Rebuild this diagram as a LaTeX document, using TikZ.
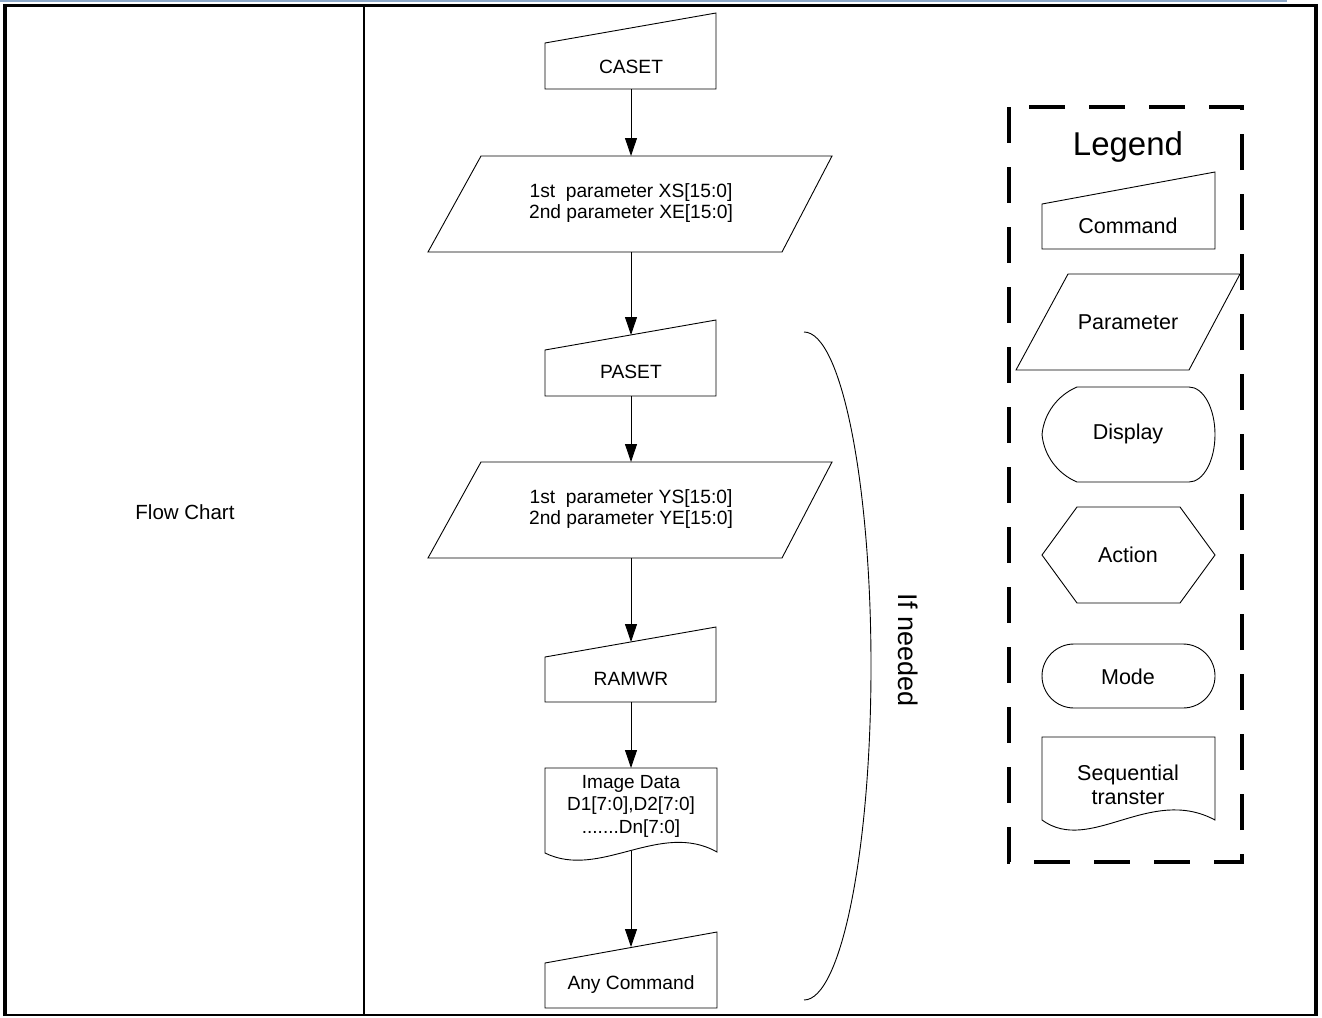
\documentclass[tikz,border=0pt]{standalone}
\usepackage{fontspec}
\setmainfont{Liberation Sans}
\usetikzlibrary{arrows.meta}
\definecolor{rulebluegray}{RGB}{140,168,200}
\begin{document}
\begin{tikzpicture}[x=1pt,y=-1pt,
  outline/.style={draw=black,line width=0.9pt,line join=miter},
  lbl/.style={inner sep=0pt,font=\fontsize{19.2}{21}\selectfont,align=center},
  keylbl/.style={inner sep=0pt,font=\fontsize{21.5}{24}\selectfont,align=center},
  flow/.style={line width=0.9pt,-{Triangle[length=18pt,width=12pt]}},
  frame/.style={draw=black,line width=#1},
  legendbox/.style={draw=black,line width=4pt,dash pattern=on 36pt off 24pt}
]
\useasboundingbox (0,0) rectangle (1322,1017);

% table frame
\draw[rulebluegray,line width=1.5pt] (0,0.8) -- (1287,0.8);
\draw[frame=3pt] (3,5) -- (1318,5);
\draw[frame=3.5pt] (5,5) -- (5,1015);
\draw[frame=2.5pt] (364,5) -- (364,1015);
\draw[frame=3.5pt] (1316,5) -- (1316,1015);
\draw[frame=2.5pt] (3,1015) -- (1318,1015);
\node[lbl,font=\fontsize{20.5}{24}\selectfont] (title) at (185,512) {Flow Chart};

% flow chart shapes
\draw[outline] (545,43) -- (716,13) -- (716,89) -- (545,89) -- cycle;
\node[lbl] (caset) at (631,67) {CASET};
\coordinate (caset-b) at (631,89);

\draw[outline] (481,156) -- (832,156) -- (782,252) -- (428,252) -- cycle;
\node[lbl] (xpar) at (631,203) {1st~~parameter XS[15:0]\\2nd parameter XE[15:0]};
\coordinate (xpar-t) at (631,156);
\coordinate (xpar-b) at (631,252);

\draw[outline] (545,350) -- (716,320) -- (716,396) -- (545,396) -- cycle;
\node[lbl] (paset) at (631,372) {PASET};
\coordinate (paset-t) at (631,335);
\coordinate (paset-b) at (631,396);

\draw[outline] (481,462) -- (832,462) -- (782,558) -- (428,558) -- cycle;
\node[lbl] (ypar) at (631,509) {1st~~parameter YS[15:0]\\2nd parameter YE[15:0]};
\coordinate (ypar-t) at (631,462);
\coordinate (ypar-b) at (631,558);

\draw[outline] (545,657) -- (716,627) -- (716,702) -- (545,702) -- cycle;
\node[lbl] (ramwr) at (631,679) {RAMWR};
\coordinate (ramwr-t) at (631,642);
\coordinate (ramwr-b) at (631,702);

\draw[outline] (545,853) -- (545,768) -- (717,768) -- (717,852)
  .. controls (660,820) and (600,880) .. (545,853) -- cycle;
\node[lbl,font=\fontsize{19}{22.5}\selectfont] (imgdata) at (631,806) {Image Data\\D1[7:0],D2[7:0]\\.......Dn[7:0]};
\coordinate (imgdata-t) at (631,768);
\coordinate (imgdata-b) at (631,851);

\draw[outline] (545,963) -- (717,932) -- (717,1008) -- (545,1008) -- cycle;
\node[lbl] (anycmd) at (631,985) {Any Command};
\coordinate (anycmd-t) at (631,947);

% connectors
\draw[flow] (caset-b) -- (xpar-t);
\draw[flow] (xpar-b) -- (paset-t);
\draw[flow] (paset-b) -- (ypar-t);
\draw[flow] (ypar-b) -- (ramwr-t);
\draw[flow] (ramwr-b) -- (imgdata-t);
\draw[flow] (imgdata-b) -- (anycmd-t);

% optional-range bracket
\coordinate (brace-top) at (804,332);
\draw[line width=0.9pt] (brace-top) arc[start angle=90,end angle=-90,x radius=67pt,y radius=334pt];
\node[inner sep=0pt,font=\fontsize{27}{30}\selectfont,rotate=-90] (ifneeded) at (908,650) {If needed};

% legend
\draw[legendbox] (1009,107) rectangle (1242,862);
\node[inner sep=0pt,font=\fontsize{33}{36}\selectfont] (legend) at (1128,147) {Legend};

\draw[outline] (1042,204) -- (1215,172) -- (1215,249) -- (1042,249) -- cycle;
\node[keylbl] (lg-cmd) at (1128,226) {Command};

\draw[outline] (1068,274) -- (1240,274) -- (1189,370) -- (1016,370) -- cycle;
\node[keylbl] (lg-par) at (1128,322) {Parameter};

\draw[outline] (1077,387) -- (1189,387)
  arc[start angle=90,end angle=-90,x radius=26pt,y radius=47.5pt]
  -- (1077,482)
  .. controls (1058,474) and (1044,456) .. (1042,434.5)
  .. controls (1044,413) and (1058,395) .. (1077,387) -- cycle;
\node[keylbl] (lg-disp) at (1128,434) {Display};

\draw[outline] (1077,507) -- (1180,507) -- (1215,555) -- (1180,603) -- (1077,603) -- (1042,555) -- cycle;
\node[keylbl] (lg-act) at (1128,555) {Action};

\draw[outline,rounded corners=32pt] (1042,644) rectangle (1215,708);
\node[keylbl] (lg-mode) at (1128,677) {Mode};

\draw[outline] (1042,820) -- (1042,737) -- (1215,737) -- (1215,820)
  .. controls (1150,785) and (1090,855) .. (1042,820) -- cycle;
\node[keylbl] (lg-seq) at (1128,785) {Sequential\\transter};
\end{tikzpicture}
\end{document}
